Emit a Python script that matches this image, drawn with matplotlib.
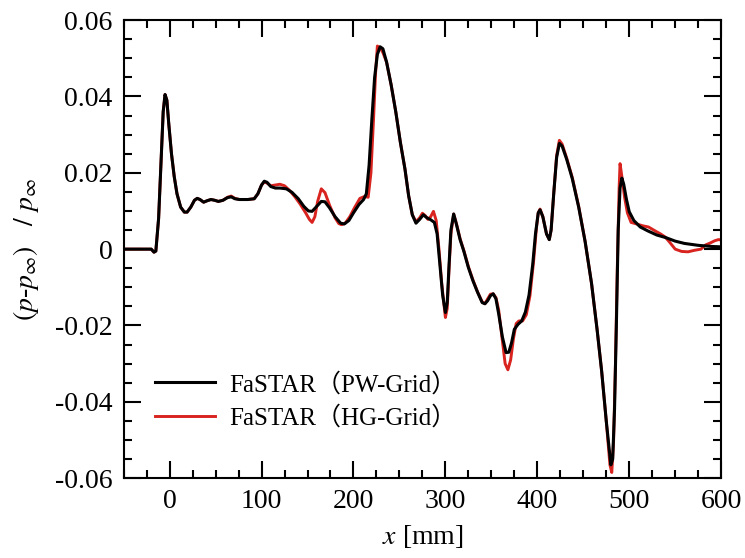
import matplotlib.pyplot as plt
from matplotlib.ticker import MultipleLocator

plt.rcParams['font.family'] = ['Liberation Serif', 'Noto Sans CJK JP', 'DejaVu Sans']
plt.rcParams['mathtext.fontset'] = 'stix'

# PW-Grid (black)
pw_x = [-50, -20, -17, -15, -12, -9, -7, -5, -3, -1, 2, 5, 8, 12, 16, 19, 23, 27, 30, 33,
        37, 41, 45, 49, 53, 58, 63, 67, 71, 76, 85, 92, 96, 100, 103, 106, 110, 115, 120, 127,
        133, 140, 146, 151, 155, 160, 165, 169, 174, 180, 186, 190, 195, 200, 206, 211, 214, 217, 220, 223,
        226, 229, 232, 236, 241, 246, 251, 256, 260, 264, 268, 272, 276, 280, 284, 288, 291, 294, 297, 300,
        302, 304, 306, 309, 312, 316, 320, 325, 330, 335, 340, 343, 346, 349, 352, 355, 358, 362, 366, 369,
        372, 375, 379, 383, 387, 391, 395, 398, 401, 403, 406, 410, 413, 415, 418, 421, 424, 427, 432, 438,
        445, 452, 459, 465, 470, 475, 480, 482, 484, 486, 488, 490, 492, 494, 497, 500, 505, 512, 520, 530,
        540, 550, 560, 575, 590, 600]
pw_y = [0, 0, -0.0008, -0.0005, 0.008, 0.025, 0.036, 0.0405, 0.039, 0.033, 0.025, 0.019, 0.0145, 0.011, 0.0097, 0.0097, 0.011, 0.0128, 0.0133, 0.013,
        0.0123, 0.0127, 0.013, 0.0128, 0.0125, 0.0128, 0.0135, 0.0137, 0.0132, 0.013, 0.013, 0.0132, 0.0145, 0.0168, 0.0178, 0.0175, 0.0164, 0.016, 0.016, 0.0158,
        0.0149, 0.0132, 0.0112, 0.0100, 0.0099, 0.0112, 0.0125, 0.0124, 0.0108, 0.0085, 0.0068, 0.0066, 0.0075, 0.0095, 0.0117, 0.013, 0.0145, 0.022, 0.034, 0.045,
        0.051, 0.053, 0.0525, 0.049, 0.043, 0.036, 0.028, 0.021, 0.014, 0.009, 0.0068, 0.0078, 0.009, 0.0082, 0.0077, 0.007, 0.004, -0.004, -0.012, -0.0166,
        -0.014, -0.004, 0.005, 0.0092, 0.0065, 0.0025, -0.0005, -0.0048, -0.0083, -0.0113, -0.014, -0.0143, -0.0135, -0.0122, -0.0117, -0.013, -0.017, -0.023, -0.0271, -0.027,
        -0.0245, -0.021, -0.0197, -0.0188, -0.0165, -0.012, -0.004, 0.004, 0.0095, 0.0103, 0.0085, 0.004, 0.0025, 0.005, 0.015, 0.024, 0.0277, 0.027, 0.0235, 0.0185,
        0.011, 0.002, -0.009, -0.021, -0.032, -0.045, -0.0565, -0.055, -0.042, -0.02, 0.005, 0.016, 0.0186, 0.017, 0.013, 0.0098, 0.0075, 0.0058, 0.0048, 0.0037,
        0.003, 0.0021, 0.0015, 0.001, 0.0007, 0.0006]

# HG-Grid (red)
hg_x = [-50, -20, -17, -15, -12, -9, -7, -5, -3, -1, 2, 5, 8, 12, 16, 19, 23, 27, 30, 33,
        37, 41, 45, 49, 53, 58, 63, 67, 71, 76, 85, 92, 96, 100, 103, 106, 110, 115, 120, 125,
        130, 136, 142, 148, 152, 155, 158, 161, 165, 169, 174, 180, 184, 187, 191, 196, 201, 207, 212, 216,
        219, 222, 224, 226, 229, 232, 236, 241, 246, 251, 256, 260, 264, 268, 272, 275, 278, 281, 284, 287,
        290, 293, 296, 300, 302, 304, 306, 309, 312, 316, 320, 325, 330, 335, 340, 343, 346, 349, 352, 355,
        358, 362, 365, 368, 371, 374, 377, 380, 384, 388, 392, 396, 399, 401, 403, 406, 410, 413, 415, 418,
        421, 424, 427, 432, 438, 445, 452, 459, 465, 470, 475, 479, 481, 483, 485, 487, 489, 490, 492, 495,
        498, 502, 508, 515, 521, 528, 534, 539, 544, 550, 557, 564, 571, 578, 583, 588, 593, 597, 600]
hg_y = [0, 0, -0.0008, -0.0005, 0.008, 0.025, 0.036, 0.0405, 0.039, 0.033, 0.025, 0.019, 0.0145, 0.011, 0.0097, 0.0097, 0.011, 0.0128, 0.0133, 0.013,
        0.0123, 0.0127, 0.013, 0.0128, 0.0125, 0.0128, 0.0136, 0.0139, 0.0133, 0.013, 0.013, 0.0132, 0.0145, 0.0168, 0.0176, 0.0173, 0.0166, 0.0168, 0.017, 0.0166,
        0.0155, 0.0138, 0.0118, 0.0095, 0.0078, 0.007, 0.0085, 0.0125, 0.0158, 0.0148, 0.0115, 0.0082, 0.0067, 0.0064, 0.0068, 0.0085, 0.0108, 0.0133, 0.0138, 0.0136,
        0.02, 0.035, 0.046, 0.0532, 0.0528, 0.0515, 0.049, 0.043, 0.036, 0.028, 0.021, 0.014, 0.009, 0.0072, 0.0082, 0.0094, 0.0088, 0.0078, 0.0085, 0.0099,
        0.0075, 0.0, -0.009, -0.0179, -0.0155, -0.005, 0.004, 0.0092, 0.0067, 0.0027, -0.0003, -0.0046, -0.0081, -0.0112, -0.0138, -0.0143, -0.013, -0.0118, -0.0117, -0.0127,
        -0.016, -0.024, -0.03, -0.0316, -0.029, -0.0235, -0.0195, -0.0188, -0.0188, -0.0172, -0.0122, -0.003, 0.0055, 0.0095, 0.0105, 0.0085, 0.004, 0.0025, 0.005, 0.015,
        0.0245, 0.0285, 0.0275, 0.0238, 0.0188, 0.0112, 0.002, -0.009, -0.021, -0.032, -0.045, -0.0565, -0.0585, -0.05, -0.03, -0.005, 0.016, 0.0224, 0.019, 0.0135,
        0.0095, 0.007, 0.0066, 0.0061, 0.0058, 0.0048, 0.004, 0.0032, 0.0018, 0.0, -0.0006, -0.0007, -0.0003, 0.0, 0.0011, 0.0016, 0.0022, 0.0025, 0.0024]

fig, ax = plt.subplots(figsize=(7.45, 5.58), dpi=100)
fig.subplots_adjust(left=0.166, right=0.968, top=0.964, bottom=0.143)

ax.plot(hg_x, hg_y, color='#d8231f', lw=2.1, label='FaSTAR（HG-Grid）')
ax.plot(pw_x, pw_y, color='black', lw=2.2, label='FaSTAR（PW-Grid）')

ax.set_xlim(-50, 600)
ax.set_ylim(-0.06, 0.06)
ax.set_xticks([0, 100, 200, 300, 400, 500, 600])
ax.set_yticks([-0.06, -0.04, -0.02, 0, 0.02, 0.04, 0.06])
ax.set_yticklabels(['-0.06', '-0.04', '-0.02', '0', '0.02', '0.04', '0.06'])
ax.xaxis.set_minor_locator(MultipleLocator(25))
ax.yaxis.set_minor_locator(MultipleLocator(0.005))
ax.tick_params(which='both', direction='in', top=True, right=True, width=1.5, labelsize=20)
ax.tick_params(which='major', length=12, pad=8)
ax.tick_params(which='minor', length=6)
for s in ax.spines.values():
    s.set_linewidth(1.5)

ax.set_xlabel('$x$ [mm]', fontsize=20, labelpad=6)
ax.set_ylabel('$(p$-$p_{\\infty})$   $/$ $p_{\\infty}$', fontsize=20, labelpad=10)

h, l = ax.get_legend_handles_labels()
ax.legend(h[::-1], l[::-1], loc='upper left', bbox_to_anchor=(0.035, 0.253), borderaxespad=0,
          frameon=False, fontsize=18, handlelength=2.4, handletextpad=0.6, labelspacing=0.4)

fig.savefig('out.png', dpi=100)
